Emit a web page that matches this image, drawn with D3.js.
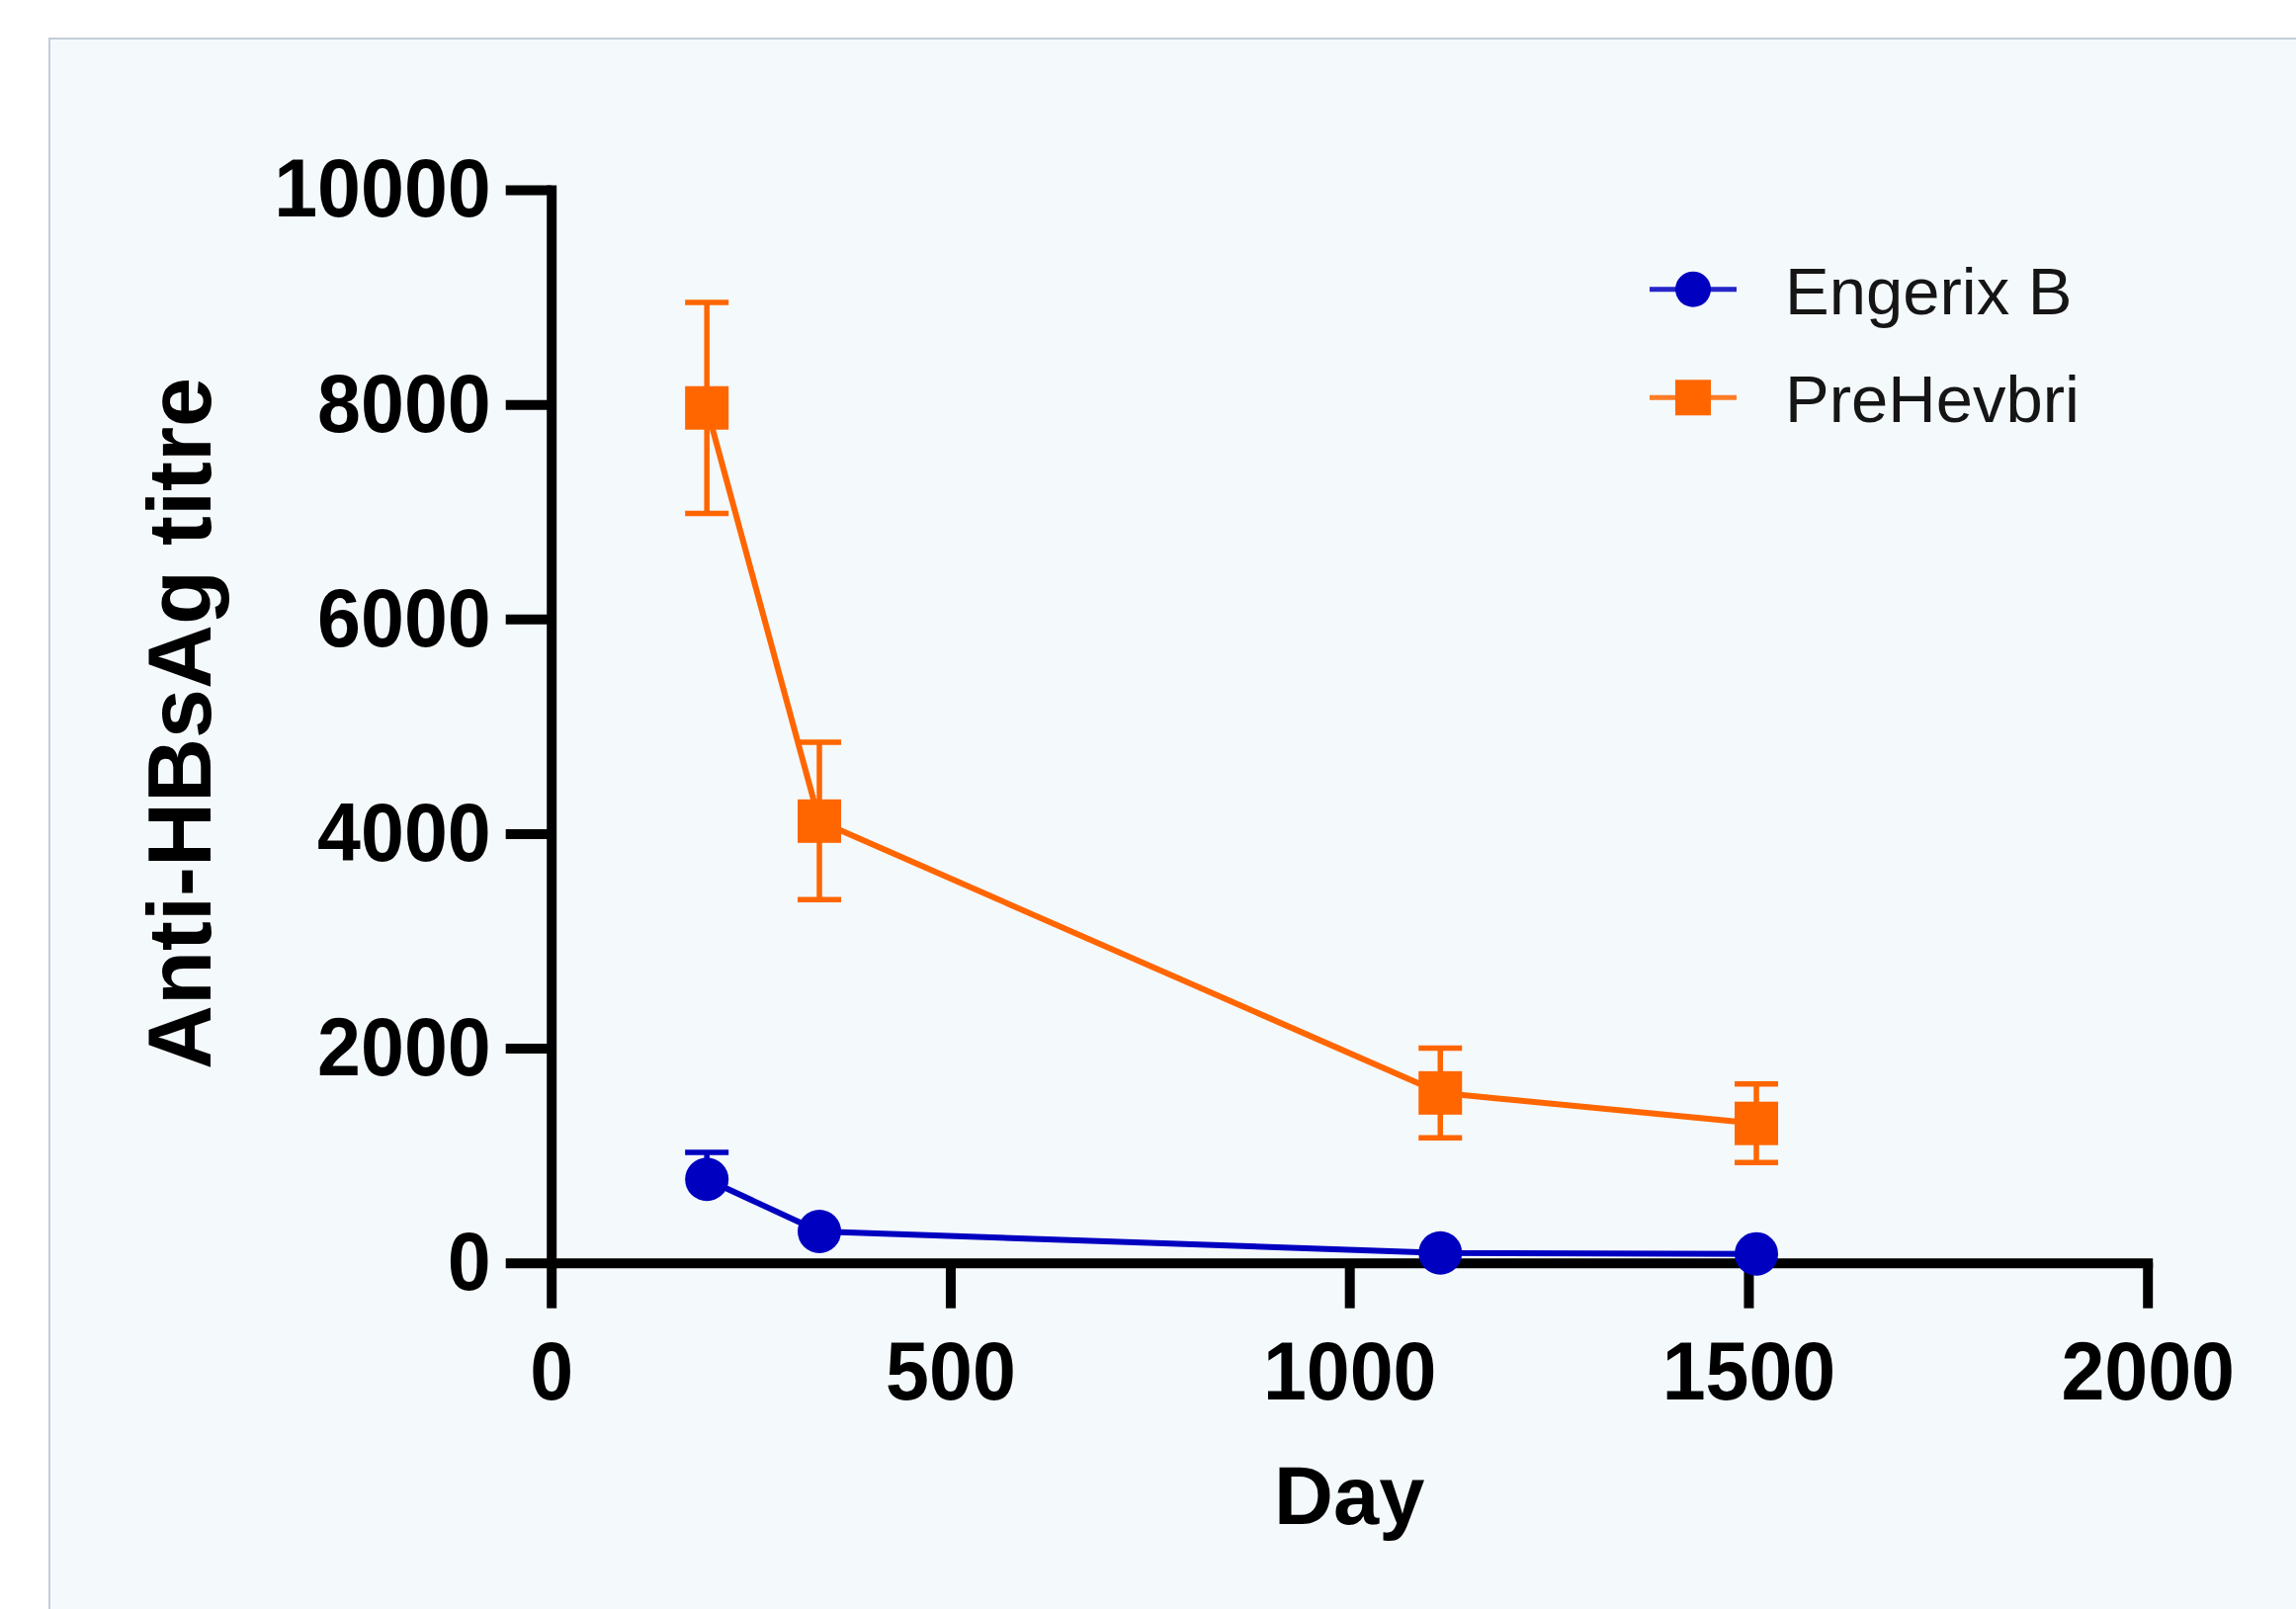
<!DOCTYPE html>
<html><head><meta charset="utf-8">
<script src="https://cdn.jsdelivr.net/npm/d3@7"></script>
<style>body{margin:0;background:#fff}svg{display:block}</style>
</head><body>
<svg id="c" width="2323" height="1628"></svg>
<script>
// ---- data ----
const days = [195, 336, 1114, 1510];
const seriesNames = ["Engerix B", "PreHevbri"];
const engerixMean = [778, 292, 92, 83];
const engerixHigh = [1029, 292, 92, 83];
const preHevbriMean = [7967, 4116, 1583, 1299];
const preHevbriHigh = [8950, 4851, 2000, 1666];
const preHevbriLow = [6983, 3385, 1165, 934];
const yTicks = [0, 2000, 4000, 6000, 8000, 10000];
const xTicks = [0, 500, 1000, 1500, 2000];
const xTitle = "Day";
const yTitle = "Anti-HBsAg titre";

const colors = ["#0000C0", "#FF6600"];
const font = "'Liberation Sans', Arial, Helvetica, sans-serif";

const svg = d3.select("#c");
svg.append("rect").attr("x", 50).attr("y", 39).attr("width", 2300).attr("height", 1620)
  .attr("fill", "#F4F9FC").attr("stroke", "#C4CDD9").attr("stroke-width", 2);

const x = d3.scaleLinear().domain([0, 2000]).range([557.7, 2172.7]);
const y = d3.scaleLinear().domain([0, 10000]).range([1277.7, 192]);

const sx = 0.94;
function styleAxis(g) {
  g.selectAll("path.domain").attr("stroke", "#000").attr("stroke-width", 10).attr("stroke-linecap", "square");
  g.selectAll(".tick line").attr("stroke", "#000").attr("stroke-width", 10);
  g.selectAll(".tick text").attr("fill", "#000").attr("font-family", font)
    .attr("font-weight", "bold").attr("font-size", 84);
}

const gy = svg.append("g").attr("transform", "translate(557.7,0)")
  .call(d3.axisLeft(y).tickValues(yTicks).tickSize(46).tickSizeOuter(0).tickPadding(15).tickFormat(d3.format("d")));
styleAxis(gy);
gy.selectAll(".tick text").attr("x", -61 / sx).attr("transform", `scale(${sx},1)`);
const gx = svg.append("g").attr("transform", "translate(0,1277.7)")
  .call(d3.axisBottom(x).tickValues(xTicks).tickSize(46).tickSizeOuter(0).tickPadding(33).tickFormat(d3.format("d")));
styleAxis(gx);
gx.selectAll(".tick text").attr("transform", `scale(${sx},1)`);

// titles
svg.append("text").attr("transform", "translate(213,732) rotate(-90)")
  .attr("text-anchor", "middle").attr("font-family", font).attr("font-weight", "bold")
  .attr("font-size", 90).attr("fill", "#000").text(yTitle);
svg.append("text").attr("x", x(1000)).attr("y", 1542)
  .attr("text-anchor", "middle").attr("font-family", font).attr("font-weight", "bold")
  .attr("font-size", 83).attr("fill", "#000").text(xTitle);

const line = d3.line().x(d => x(d[0])).y(d => y(d[1]));

const preData = days.map((d, i) => ({ day: d, mean: preHevbriMean[i], hi: preHevbriHigh[i], lo: preHevbriLow[i] }));
const engData = days.map((d, i) => ({ day: d, mean: engerixMean[i], hi: engerixHigh[i], lo: engerixMean[i] }));

function drawSeries(data, color, shape) {
  const g = svg.append("g");
  data.forEach(d => {
    [d.hi, d.lo].forEach(v => {
      if (v === d.mean) return;
      g.append("line").attr("x1", x(d.day)).attr("x2", x(d.day)).attr("y1", y(d.mean)).attr("y2", y(v))
        .attr("stroke", color).attr("stroke-width", 5.5);
      g.append("line").attr("x1", x(d.day) - 22).attr("x2", x(d.day) + 22).attr("y1", y(v)).attr("y2", y(v))
        .attr("stroke", color).attr("stroke-width", 5.5);
    });
  });
  g.append("path").datum(data.map(d => [d.day, d.mean])).attr("d", line)
    .attr("fill", "none").attr("stroke", color).attr("stroke-width", 6);
  data.forEach(d => {
    if (shape === "circle") {
      g.append("circle").attr("cx", x(d.day)).attr("cy", y(d.mean)).attr("r", 22).attr("fill", color);
    } else {
      g.append("rect").attr("x", x(d.day) - 22).attr("y", y(d.mean) - 22).attr("width", 44).attr("height", 44).attr("fill", color);
    }
  });
}
drawSeries(preData, colors[1], "square");
drawSeries(engData, colors[0], "circle");

// legend
const legendRows = [292.7, 402.3];
seriesNames.forEach((name, i) => {
  const g = svg.append("g").attr("transform", `translate(0,${legendRows[i]})`);
  g.append("line").attr("x1", 1669).attr("x2", 1757).attr("y1", 0).attr("y2", 0)
    .attr("stroke", colors[i]).attr("stroke-width", 5).attr("stroke-opacity", 0.85);
  if (i === 0) g.append("circle").attr("cx", 1713).attr("cy", 0).attr("r", 18).attr("fill", colors[i]);
  else g.append("rect").attr("x", 1695).attr("y", -18).attr("width", 36).attr("height", 36).attr("fill", colors[i]);
  g.append("text").attr("x", 1806).attr("y", 25).attr("font-family", font).attr("font-size", 67)
    .attr("fill", "#151515").text(name);
});
</script>
</body></html>
